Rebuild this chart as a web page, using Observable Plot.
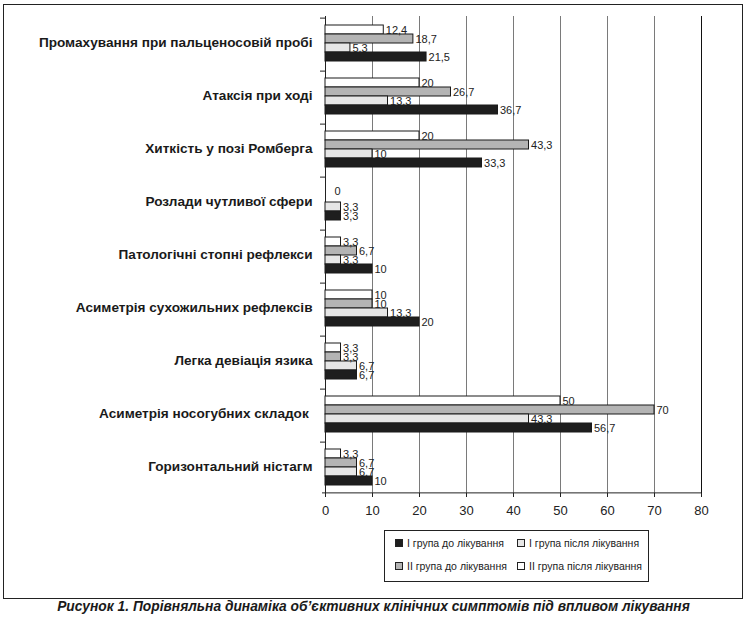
<!DOCTYPE html>
<html>
<head>
<meta charset="utf-8">
<script src="https://cdn.jsdelivr.net/npm/d3@7"></script>
<script src="https://cdn.jsdelivr.net/npm/@observablehq/plot@0.6"></script>
<style>
  body { margin: 0; background: #fff; font-family: "Liberation Sans", Arial, sans-serif; }
  #page { position: relative; width: 747px; height: 620px; }
  #frame { position: absolute; left: 3px; top: 4px; width: 738px; height: 593px; border: 1px solid #222; }
  #chart { position: absolute; left: 0; top: 0; }
  #chart svg text { white-space: pre; }
  #legend { position: absolute; left: 384px; top: 530px; width: 263px; height: 50px; border: 1px solid #222; font-size: 10.5px; color: #222; }
  .item { position: absolute; display: flex; align-items: center; white-space: nowrap; }
  .sw { width: 8px; height: 8px; border: 1px solid #222; margin-right: 4px; box-sizing: border-box; }
  #caption { position: absolute; left: 0; top: 599px; width: 747px; text-align: center; font-weight: bold; font-style: italic; font-size: 13.8px; color: #1a1a1a; }
</style>
</head>
<body>
<div id="page">
  <div id="frame"></div>
  <div id="chart"></div>
  <div id="legend"></div>
  <div id="caption">Рисунок 1. Порівняльна динаміка об’єктивних клінічних симптомів під впливом лікування</div>
</div>
<script>
const categories = [
  "Промахування при пальценосовій пробі",
  "Атаксія при ході",
  "Хиткість у позі Ромберга",
  "Розлади чутливої сфери",
  "Патологічні стопні рефлекси",
  "Асиметрія сухожильних рефлексів",
  "Легка девіація язика",
  "Асиметрія носогубних складок ",
  "Горизонтальний ністагм"
];
// series names (legend order)
const seriesNames = ["І група до лікування", "І група після лікування", "ІІ група до лікування", "ІІ група після лікування"];
const seriesColors = ["#1e1e1e", "#e6e6e6", "#b4b4b4", "#ffffff"];
// bar order inside each category, top to bottom
const barOrder = ["ІІ група після лікування", "ІІ група до лікування", "І група після лікування", "І група до лікування"];

const iBefore  = [21.5, 36.7, 33.3, 3.3, 10, 20, 6.7, 56.7, 10];
const iAfter   = [5.3, 13.3, 10, 3.3, 3.3, 13.3, 6.7, 43.3, 6.7];
const iiBefore = [18.7, 26.7, 43.3, null, 6.7, 10, 3.3, 70, 6.7];
const iiAfter  = [12.4, 20, 20, 0, 3.3, 10, 3.3, 50, 3.3];
const xTicks = [0, 10, 20, 30, 40, 50, 60, 70, 80];

const seriesValues = {
  "І група до лікування": iBefore,
  "І група після лікування": iAfter,
  "ІІ група до лікування": iiBefore,
  "ІІ група після лікування": iiAfter
};
const rows = [];
categories.forEach((c, i) => {
  for (const s of barOrder) {
    const v = seriesValues[s][i];
    if (v != null) rows.push({cat: c, series: s, value: v});
  }
});
const fmt = v => String(v).replace(".", ",");

const W = 747, H = 525, mL = 325, mR = 46, mT = 16, mB = 32;
const padOuter = 0.72;
const bandH = (H - mT - mB) / categories.length;
const step = bandH / (barOrder.length + 2 * padOuter);
const edge = step / 2 + padOuter * step;

const chart = Plot.plot({
  width: W, height: H,
  marginLeft: mL, marginRight: mR, marginTop: mT, marginBottom: mB,
  style: {fontFamily: "'Liberation Sans', Arial, sans-serif", color: "#222", background: "transparent"},
  x: {domain: [0, 80]},
  y: {domain: barOrder, paddingInner: 0, paddingOuter: padOuter, axis: null},
  fy: {domain: categories, padding: 0, label: null},
  color: {domain: seriesNames, range: seriesColors},
  marks: [
    Plot.gridX({ticks: xTicks, stroke: "#7a7a7a", strokeOpacity: 1}),
    Plot.ruleX([80], {stroke: "#111"}),
    Plot.ruleX([0], {stroke: "#222"}),
    Plot.barX(rows.filter(d => d.value > 0), {fy: "cat", y: "series", x: "value", fill: "series", stroke: "#1a1a1a", strokeWidth: 1}),
    Plot.text(rows.filter(d => d.value > 0), {fy: "cat", y: "series", x: "value", text: d => fmt(d.value), dx: 2, textAnchor: "start", fontSize: 11, fill: "#222"}),
    Plot.text(rows.filter(d => d.value === 0), {fy: "cat", y: "series", x: "value", text: d => fmt(d.value), dx: 9, dy: 2, textAnchor: "start", fontSize: 11, fill: "#222"}),
    Plot.ruleY(categories, {fy: d => d, y: () => barOrder[0], dy: -edge, x1: 0, x2: 0, insetLeft: -5, stroke: "#222"}),
    Plot.ruleY([categories[categories.length - 1]], {fy: d => d, y: () => barOrder[barOrder.length - 1], dy: edge, x1: 0, x2: 80, insetLeft: -3, stroke: "#222"}),
    Plot.axisX({ticks: xTicks, tickSize: 4, tickPadding: 8, fontSize: 13, label: null, stroke: "#222", fill: "#222"}),
    Plot.axisFy({anchor: "left", tickSize: 0, tickPadding: 13, fontSize: 13.6, fontWeight: "bold", label: null, fill: "#1a1a1a"})
  ]
});
document.getElementById("chart").appendChild(chart);

// legend
const legend = document.getElementById("legend");
const pos = [
  {left: 10, top: 12}, {left: 132, top: 12},
  {left: 10, top: 35}, {left: 132, top: 35}
];
seriesNames.forEach((s, i) => {
  const it = document.createElement("div");
  it.className = "item";
  it.style.left = pos[i].left + "px";
  it.style.top = (pos[i].top - 6) + "px";
  const sw = document.createElement("span");
  sw.className = "sw";
  sw.style.background = seriesColors[i];
  const t = document.createElement("span");
  t.textContent = s;
  it.appendChild(sw);
  it.appendChild(t);
  legend.appendChild(it);
});
</script>
</body>
</html>
